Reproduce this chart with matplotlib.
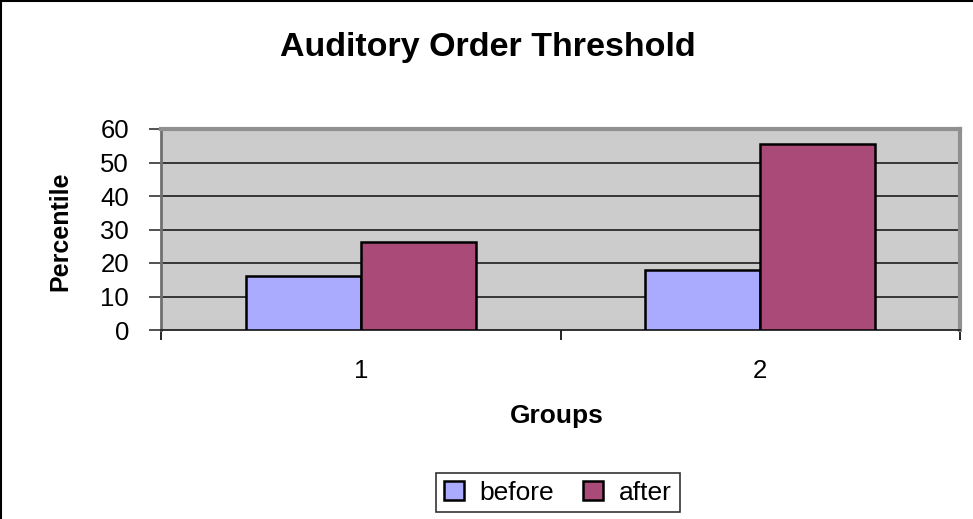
import matplotlib
matplotlib.use("Agg")
import matplotlib.pyplot as plt
import numpy as np
from matplotlib.lines import Line2D

groups = ["1", "2"]
before = [16, 18]
after = [26.4, 55.6]
yticks = [0, 10, 20, 30, 40, 50, 60]

plt.rcParams['font.family'] = ['Liberation Sans', 'DejaVu Sans']

fig = plt.figure(figsize=(9.73, 5.19), dpi=100)
fig.patch.set_facecolor('white')
ax = fig.add_axes([161/973, 1-330/519, (960-161)/973, (330-129)/519])
ax.set_facecolor('#CCCCCC')

x = np.arange(len(groups))
w = 0.2875
ax.bar(x - w/2, before, w, color='#AAAAFF', edgecolor='black', linewidth=1.8, label='before', zorder=3)
ax.bar(x + w/2, after, w, color='#AA4A78', edgecolor='black', linewidth=1.8, label='after', zorder=3)

ax.set_xlim(-0.5, 1.5)
ax.set_ylim(0, 60)
ax.set_yticks(yticks)
ax.set_yticklabels([str(v) for v in yticks], fontsize=18.5)
for y in yticks[1:-1]:
    ax.axhline(y, color='#2a2a2a', linewidth=1.3, zorder=1)

ax.set_xticks([-0.5, 0.5, 1.5])
ax.set_xticklabels([])
ax.set_xticks(x, minor=True)
ax.set_xticklabels(groups, minor=True, fontsize=18.5)
ax.tick_params(axis='x', which='major', length=7, width=1.2, color='black', direction='out')
ax.tick_params(axis='x', which='minor', length=0, pad=21)
ax.tick_params(axis='y', length=9, width=1.2, color='#333333', direction='out', pad=14)

for s in ['top', 'right']:
    ax.spines[s].set_color('#909090')
    ax.spines[s].set_linewidth(3)
ax.spines['left'].set_color('#707070')
ax.spines['left'].set_linewidth(2)
ax.spines['bottom'].set_color('#222222')
ax.spines['bottom'].set_linewidth(1.3)

fig.text(488/973, 1-56/519, 'Auditory Order Threshold', ha='center', va='baseline',
         fontsize=24.5, fontweight='bold')
fig.text(60/973, 1-231/519, 'Percentile', ha='center', va='center', rotation=90,
         fontsize=18, fontweight='bold')
fig.text(557/973, 1-416/519, 'Groups', ha='center', va='center',
         fontsize=19, fontweight='bold')

leg = fig.legend(loc='center', bbox_to_anchor=(558/973, 1-492.5/519), ncol=2, fontsize=19,
                 frameon=True, fancybox=False, edgecolor='black', handlelength=0.75,
                 handleheight=0.75, handletextpad=0.6, columnspacing=1.1, borderpad=0.3,
                 borderaxespad=0)
leg.get_frame().set_linewidth(1.2)

fig.add_artist(Line2D([1/973, 1/973], [0, 1], transform=fig.transFigure, color='black', linewidth=1.5))
fig.add_artist(Line2D([0, 1], [1-1/519, 1-1/519], transform=fig.transFigure, color='black', linewidth=1.5))

fig.savefig('out.png', dpi=100)
